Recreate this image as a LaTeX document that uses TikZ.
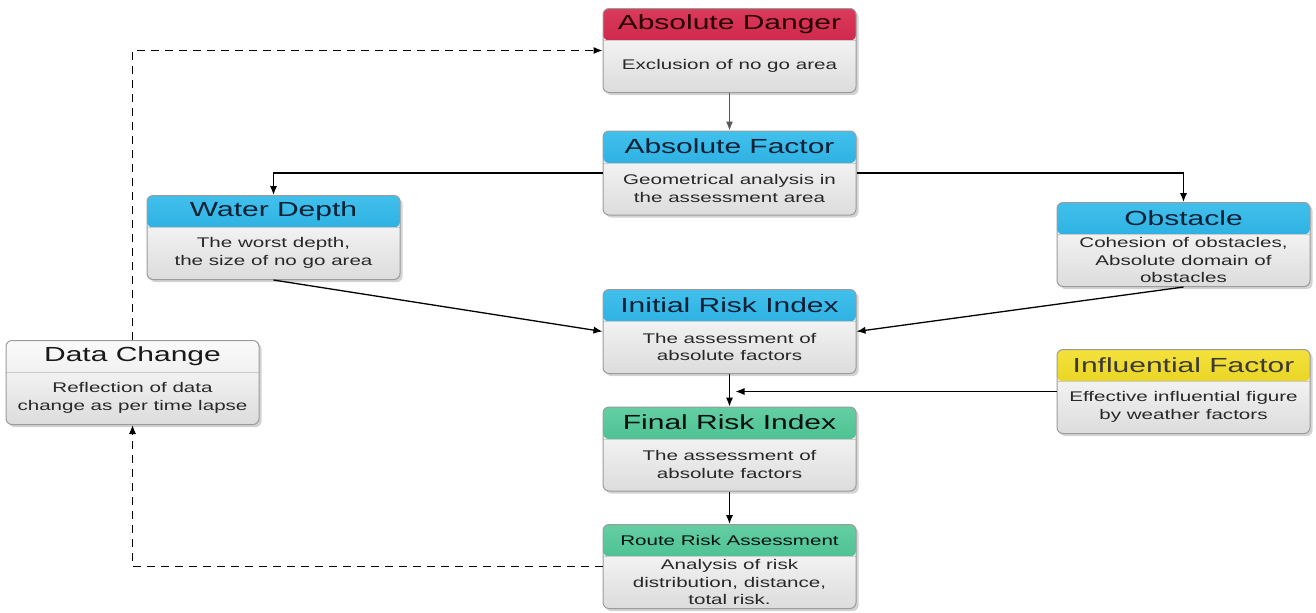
\documentclass[tikz,border=0pt]{standalone}
\usepackage{fontspec}
\setmainfont{Liberation Sans}[FakeStretch=1.47]
\usetikzlibrary{arrows.meta,shadows}

\definecolor{dangercol}{RGB}{188,14,52}
\definecolor{dangertop}{RGB}{218,58,92}
\definecolor{factorcol}{RGB}{14,156,212}
\definecolor{factortop}{RGB}{66,192,236}
\definecolor{finalcol}{RGB}{44,176,128}
\definecolor{finaltop}{RGB}{100,206,162}
\definecolor{influcol}{RGB}{216,192,0}
\definecolor{influtop}{RGB}{244,226,60}
\definecolor{changecol}{RGB}{226,226,226}
\definecolor{changetop}{RGB}{250,250,250}
\definecolor{bodycol}{RGB}{220,220,220}
\definecolor{edgecol}{RGB}{155,155,155}
\definecolor{titlecol}{RGB}{12,32,54}
\definecolor{textcol}{RGB}{40,40,40}

\tikzset{
  box/.style={draw=edgecol, line width=0.5pt, rounded corners=3pt,
    minimum width=126.5pt, minimum height=42pt, inner sep=0pt,
    top color=white, bottom color=bodycol,
    drop shadow={opacity=0.35, shadow xshift=1.3pt, shadow yshift=-1.3pt}},
  head/.style 2 args={path picture={
    \shade[top color=#2, bottom color=#1]
      (path picture bounding box.north west) rectangle
      ([yshift=-16pt]path picture bounding box.north east);
    \draw[black!20, line width=0.4pt]
      ([yshift=-16pt]path picture bounding box.north west) --
      ([yshift=-16pt]path picture bounding box.north east);}},
  title/.style={font=\fontsize{10.2}{12}\selectfont, text=titlecol, inner sep=0pt},
  body/.style={font=\fontsize{7}{8.85}\selectfont, text=textcol,
    align=center, inner sep=0pt},
  arr/.style={->, line width=0.65pt, black},
  dashline/.style={arr, dash pattern=on 4pt off 3pt}
}

\begin{document}
\begin{tikzpicture}[x=0.5pt, y=-0.5pt, >={Latex[length=4.5pt, width=3.6pt]}]

  \useasboundingbox (0,0) rectangle (1316,612);

  % Absolute danger.
  \node[box, head={dangercol}{dangertop}] (danger) at (729.5,50.5) {};
  \node[title, text=black!85!red] (danger-h) at ([yshift=-8pt]danger.north) {Absolute Danger};
  \node[body] (danger-t) at ([yshift=-29pt]danger.north) {Exclusion of no go area};

  % Absolute factor.
  \node[box, head={factorcol}{factortop}] (factor) at (729.5,173) {};
  \node[title] (factor-h) at ([yshift=-8pt]factor.north) {Absolute Factor};
  \node[body] (factor-t) at ([yshift=-29pt]factor.north)
    {Geometrical analysis in\\the assessment area};

  % Water depth.
  \node[box, head={factorcol}{factortop}] (water) at (273.5,237.5) {};
  \node[title] (water-h) at ([yshift=-8pt]water.north) {Water Depth};
  \node[body] (water-t) at ([yshift=-29pt]water.north)
    {The worst depth,\\the size of no go area};

  % Obstacle.
  \node[box, head={factorcol}{factortop}] (obstacle) at (1183.5,244.5) {};
  \node[title] (obstacle-h) at ([yshift=-8pt]obstacle.north) {Obstacle};
  \node[body] (obstacle-t) at ([yshift=-29pt]obstacle.north)
    {Cohesion of obstacles,\\Absolute domain of\\obstacles};

  % Initial risk index.
  \node[box, head={factorcol}{factortop}] (initial) at (729.5,331.5) {};
  \node[title] (initial-h) at ([yshift=-8pt]initial.north) {Initial Risk Index};
  \node[body] (initial-t) at ([yshift=-29pt]initial.north)
    {The assessment of\\absolute factors};

  % Data change.
  \node[box, head={changecol}{changetop}] (change) at (132.5,382.5) {};
  \node[title, text=black!90] (change-h) at ([yshift=-8pt]change.north) {Data Change};
  \node[body] (change-t) at ([yshift=-29pt]change.north)
    {Reflection of data\\change as per time lapse};

  % Influential factor.
  \node[box, head={influcol}{influtop}] (influ) at (1183.5,391.5) {};
  \node[title, text=black!88!yellow] (influ-h) at ([yshift=-8pt]influ.north) {Influential Factor};
  \node[body] (influ-t) at ([yshift=-29pt]influ.north)
    {Effective influential figure\\by weather factors};

  % Final risk index.
  \node[box, head={finalcol}{finaltop}] (final) at (729.5,449) {};
  \node[title, text=black!88!teal] (final-h) at ([yshift=-8pt]final.north) {Final Risk Index};
  \node[body] (final-t) at ([yshift=-29pt]final.north)
    {The assessment of\\absolute factors};

  % Route risk assessment.
  \node[box, head={finalcol}{finaltop}] (route) at (729.5,566.5) {};
  \node[title, font=\fontsize{7}{8.85}\selectfont, text=black!85!teal] (route-h)
    at ([yshift=-8pt]route.north) {Route Risk Assessment};
  \node[body] (route-t) at ([yshift=-29pt]route.north)
    {Analysis of risk\\distribution, distance,\\total risk.};

  % Connectors.
  \draw[arr, black!65] (danger) -- (factor);
  \draw[arr] (factor.west) -| (water);
  \draw[arr] (factor.east) -| (obstacle);
  \draw[arr] (water.south) -- (initial.west);
  \draw[arr] (obstacle.south) -- (initial.east);
  \draw[arr] (initial) -- (final);
  \coordinate (merge) at ([xshift=3pt]initial.south |- influ.west);
  \draw[arr] (influ.west) -- (merge);
  \draw[arr] (final) -- (route);

  % Feedback loop (dashed).
  \draw[dashline] (route.west) -| (change.south);
  \draw[dashline] (change.north) |- (danger.west);

\end{tikzpicture}
\end{document}
